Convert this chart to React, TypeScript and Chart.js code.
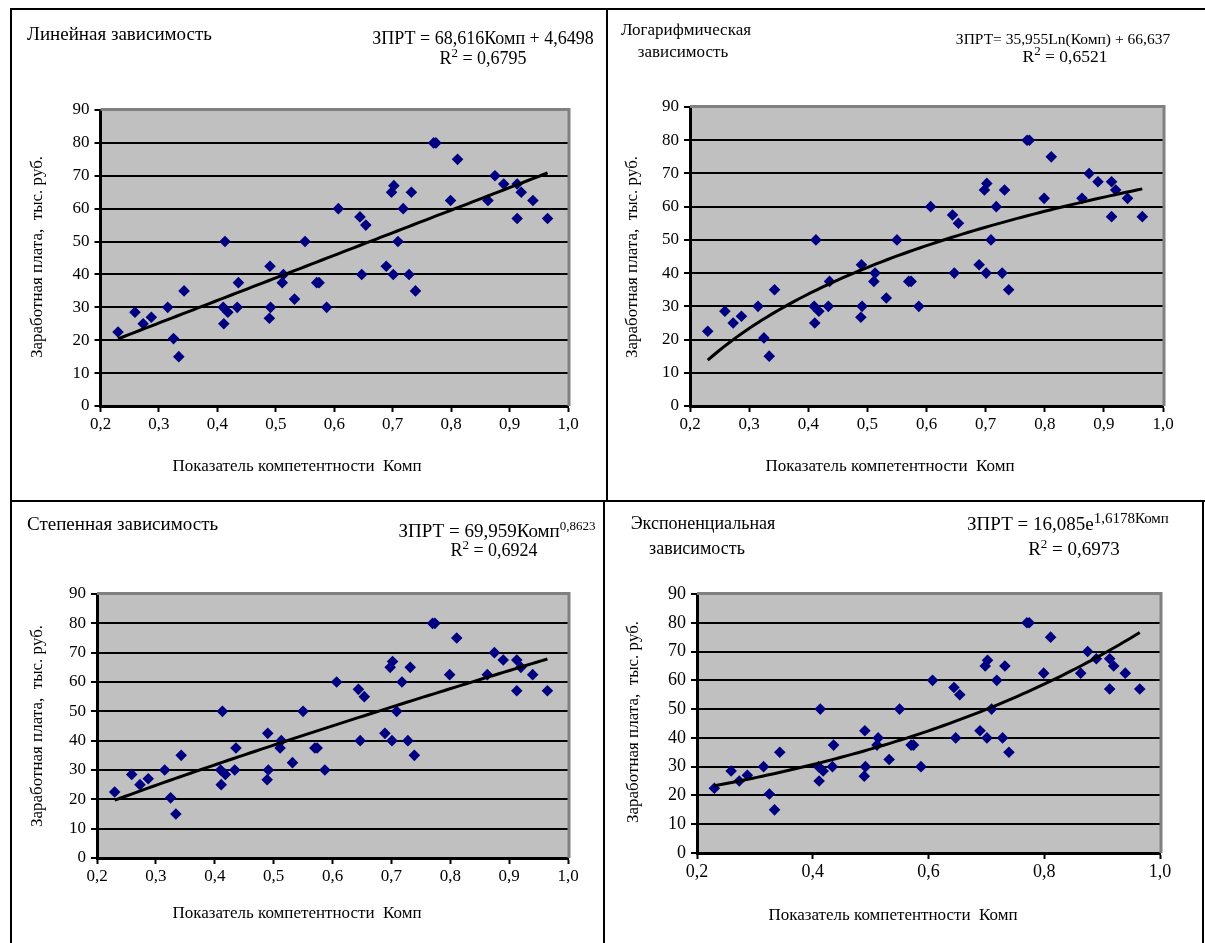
import React, { useEffect, useRef } from 'react';
import { Chart, registerables } from 'chart.js';

Chart.register(...registerables);

// Competence index (Комп) and salary (ЗПРТ, thousand roubles) per employee
const komp = [
  0.230, 0.259, 0.273, 0.287, 0.315, 0.325, 0.334, 0.343, 0.413, 0.410,
  0.418, 0.411, 0.434, 0.436, 0.490, 0.491, 0.489, 0.513, 0.511, 0.532,
  0.550, 0.570, 0.574, 0.587, 0.607, 0.644, 0.654, 0.647, 0.689, 0.698,
  0.702, 0.701, 0.709, 0.718, 0.728, 0.732, 0.739, 0.770, 0.774, 0.811,
  0.799, 0.863, 0.875, 0.890, 0.913, 0.920, 0.913, 0.940, 0.965,
];
const zprt = [
  22.5, 28.5, 25, 27, 30, 20.5, 15, 35, 50, 30,
  28.5, 25, 30, 37.5, 42.5, 30, 26.7, 40, 37.5, 32.5,
  50, 37.5, 37.5, 30, 60, 57.5, 55, 40, 42.5, 65,
  67, 40, 50, 60, 40, 65, 35, 80, 80, 75,
  62.5, 62.5, 70, 67.5, 67.5, 65, 57, 62.5, 57,
];

// Trend models with the coefficients printed on each panel
const linearCoef = [68.616, 4.6498];
const logCoef = [35.955, 66.637];
const powerCoef = [69.959, 0.8623];
const expCoef = [16.085, 1.6178];

const yTicks = [0, 10, 20, 30, 40, 50, 60, 70, 80, 90];

type Model = (x: number) => number;
const models: Record<string, Model> = {
  lin: (x) => linearCoef[0] * x + linearCoef[1],
  log: (x) => logCoef[0] * Math.log(x) + logCoef[1],
  pow: (x) => powerCoef[0] * Math.pow(x, powerCoef[1]),
  exp: (x) => expCoef[0] * Math.exp(expCoef[1] * x),
};

const FONT = "'Liberation Serif', 'Times New Roman', serif";

type Box = { l: number; t: number; w: number; h: number };
type Plot = { l: number; t: number; r: number; b: number };

interface PanelSpec {
  model: string;
  frame: Box;
  plot: Plot;
  xStep: number;
  tickSize: number;
}

const panels: PanelSpec[] = [
  { model: 'lin', frame: { l: 10, t: 8, w: 598, h: 494 }, plot: { l: 100.5, t: 110, r: 568, b: 406 }, xStep: 0.1, tickSize: 17 },
  { model: 'log', frame: { l: 606, t: 8, w: 610, h: 494 }, plot: { l: 690, t: 107, r: 1163, b: 406 }, xStep: 0.1, tickSize: 17 },
  { model: 'pow', frame: { l: 10, t: 500, w: 595, h: 460 }, plot: { l: 97, t: 594, r: 568, b: 858 }, xStep: 0.1, tickSize: 17 },
  { model: 'exp', frame: { l: 603, t: 500, w: 601, h: 460 }, plot: { l: 697, t: 594, r: 1160, b: 853 }, xStep: 0.2, tickSize: 18 },
];

// Grey plot background with a darker edge along the top and right
const plotBackground = {
  id: 'plotBackground',
  beforeDraw(chart: any) {
    const { ctx, chartArea: a } = chart;
    ctx.save();
    ctx.fillStyle = '#c0c0c0';
    ctx.fillRect(a.left, a.top, a.right - a.left, a.bottom - a.top);
    ctx.restore();
  },
  beforeDatasetsDraw(chart: any) {
    const { ctx, chartArea: a } = chart;
    ctx.save();
    ctx.strokeStyle = '#808080';
    ctx.lineWidth = 3;
    ctx.beginPath();
    ctx.moveTo(a.left, a.top - 0.5);
    ctx.lineTo(a.right + 1, a.top - 0.5);
    ctx.lineTo(a.right + 1, a.bottom);
    ctx.stroke();
    ctx.restore();
  },
};

function ScatterPanel({ spec }: { spec: PanelSpec }) {
  const ref = useRef<HTMLCanvasElement>(null);
  const cl = spec.frame.l + 2;
  const ct = spec.frame.t + 2;
  const cw = spec.frame.w - 4;
  const ch = spec.frame.h - 4;

  useEffect(() => {
    const f = models[spec.model];
    const points = komp.map((x, i) => ({ x, y: zprt[i] }));
    const x0 = Math.min(...komp);
    const x1 = Math.max(...komp);
    const n = 80;
    const trend = Array.from({ length: n + 1 }, (_, i) => {
      const x = x0 + ((x1 - x0) * i) / n;
      return { x, y: f(x) };
    });
    const p = spec.plot;
    const yW = p.l - cl;
    const xH = ct + ch - p.b;
    const tickFont = { family: FONT, size: spec.tickSize };
    const chart = new Chart(ref.current as HTMLCanvasElement, {
      type: 'scatter',
      data: {
        datasets: [
          {
            data: trend,
            showLine: true,
            borderColor: '#000000',
            borderWidth: 3,
            pointRadius: 0,
            fill: false,
            tension: 0,
            order: 0,
          },
          {
            data: points,
            pointStyle: 'rectRot',
            pointRadius: 5.8,
            backgroundColor: '#000080',
            borderColor: '#000080',
            borderWidth: 0,
            order: 1,
          },
        ],
      },
      options: {
        responsive: false,
        maintainAspectRatio: false,
        animation: false,
        events: [],
        layout: { padding: { left: 0, bottom: 0, top: p.t - ct, right: cl + cw - p.r } },
        plugins: { legend: { display: false }, tooltip: { enabled: false } },
        scales: {
          x: {
            type: 'linear',
            min: 0.2,
            max: 1.0,
            afterFit: (s: any) => { s.height = xH; },
            afterBuildTicks: (s: any) => {
              const t = [];
              for (let v = 0.2; v <= 1.0001; v += spec.xStep) t.push({ value: Math.round(v * 10) / 10 });
              s.ticks = t;
            },
            ticks: {
              color: '#000',
              font: tickFont,
              padding: 2,
              maxRotation: 0,
              autoSkip: false,
              callback: (v: any) => Number(v).toFixed(1).replace('.', ','),
            },
            grid: { drawOnChartArea: false, drawTicks: true, tickLength: 6, tickColor: '#000', tickWidth: 2, color: '#000' },
            border: { color: '#000', width: 3 },
          },
          y: {
            min: 0,
            max: 90,
            afterFit: (s: any) => { s.width = yW; },
            afterBuildTicks: (s: any) => { s.ticks = yTicks.map((value) => ({ value })); },
            ticks: { color: '#000', font: tickFont, padding: 5, autoSkip: false },
            grid: {
              color: (c: any) => (c.tick && c.tick.value === 90 ? 'rgba(0,0,0,0)' : '#000'),
              lineWidth: 2,
              tickLength: 6,
              tickColor: '#000',
              tickWidth: 2,
            },
            border: { color: '#000', width: 3 },
          },
        },
      },
      plugins: [plotBackground],
    });
    return () => chart.destroy();
  }, []);

  return (
    <canvas
      ref={ref}
      width={cw}
      height={ch}
      style={{ position: 'absolute', left: cl, top: ct, width: cw, height: ch }}
    />
  );
}

function Text({ x, y, size, align = 'left', children }: { x: number; y: number; size: number; align?: string; children: any }) {
  const lh = Math.round(size * 1.2);
  const style: any = {
    position: 'absolute',
    top: y - lh / 2,
    fontFamily: FONT,
    fontSize: size,
    lineHeight: lh + 'px',
    whiteSpace: 'pre',
    color: '#000',
  };
  if (align === 'left') style.left = x;
  else if (align === 'right') { style.right = 1205 - x; }
  else { style.left = x; style.transform = 'translateX(-50%)'; }
  return <div style={style}>{children}</div>;
}

function VText({ x, y, size, children }: { x: number; y: number; size: number; children: any }) {
  return (
    <div
      style={{
        position: 'absolute',
        left: x,
        top: y,
        transform: 'translate(-50%, -50%) rotate(-90deg)',
        fontFamily: FONT,
        fontSize: size,
        lineHeight: '20px',
        whiteSpace: 'pre',
        color: '#000',
      }}
    >
      {children}
    </div>
  );
}

const Sup = ({ children, size }: { children: any; size: number }) => (
  <span style={{ fontSize: size, position: 'relative', top: -7 }}>{children}</span>
);

const frameStyle = (b: Box): any => ({
  position: 'absolute',
  left: b.l,
  top: b.t,
  width: b.w,
  height: b.h,
  border: '2px solid #000',
  boxSizing: 'border-box',
});

const Y_TITLE = 'Заработная плата,  тыс. руб.';
const X_TITLE = 'Показатель компетентности  Комп';

export default function App() {
  return (
    <div style={{ position: 'fixed', left: 0, top: 0, width: 1205, height: 943, overflow: 'hidden', background: '#fff' }}>
      {panels.map((p) => (
        <div key={p.model + 'f'} style={frameStyle(p.frame)} />
      ))}
      {panels.map((p) => (
        <ScatterPanel key={p.model} spec={p} />
      ))}

      {/* Linear */}
      <Text x={27} y={33} size={19}>Линейная зависимость</Text>
      <Text x={483} y={38} size={18} align="center">ЗПРТ = 68,616Комп + 4,6498</Text>
      <Text x={483} y={58} size={18} align="center">R<Sup size={13}>2</Sup> = 0,6795</Text>
      <VText x={37} y={257} size={17}>{Y_TITLE}</VText>
      <Text x={297} y={466} size={17} align="center">{X_TITLE}</Text>

      {/* Logarithmic */}
      <Text x={686} y={30} size={17} align="center">Логарифмическая</Text>
      <Text x={683} y={52} size={17} align="center">зависимость</Text>
      <Text x={1063} y={38} size={15.5} align="center">ЗПРТ= 35,955Ln(Комп) + 66,637</Text>
      <Text x={1065} y={56} size={17.5} align="center">R<Sup size={13}>2</Sup> = 0,6521</Text>
      <VText x={632} y={257} size={17}>{Y_TITLE}</VText>
      <Text x={890} y={466} size={17} align="center">{X_TITLE}</Text>

      {/* Power */}
      <Text x={27} y={523} size={19}>Степенная зависимость</Text>
      <Text x={497} y={530} size={19} align="center">ЗПРТ = 69,959Комп<Sup size={13}>0,8623</Sup></Text>
      <Text x={494} y={550} size={18} align="center">R<Sup size={13}>2</Sup> = 0,6924</Text>
      <VText x={37} y={726} size={17}>{Y_TITLE}</VText>
      <Text x={297} y={913} size={17} align="center">{X_TITLE}</Text>

      {/* Exponential */}
      <Text x={703} y={523} size={18} align="center">Экспоненциальная</Text>
      <Text x={697} y={548} size={18} align="center">зависимость</Text>
      <Text x={1068} y={523} size={19} align="center">ЗПРТ = 16,085e<Sup size={15}>1,6178Комп</Sup></Text>
      <Text x={1074} y={548} size={19} align="center">R<Sup size={13}>2</Sup> = 0,6973</Text>
      <VText x={633} y={722} size={17}>{Y_TITLE}</VText>
      <Text x={893} y={915} size={17} align="center">{X_TITLE}</Text>
    </div>
  );
}
